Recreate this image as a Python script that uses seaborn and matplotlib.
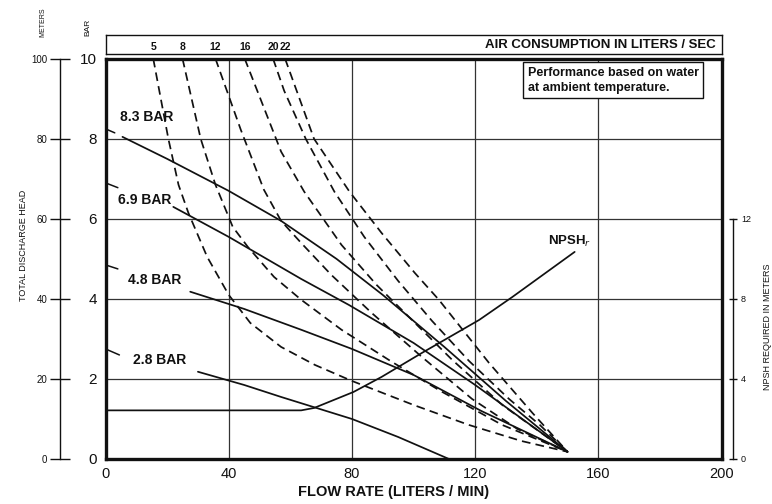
import matplotlib
matplotlib.use("Agg")
import matplotlib.pyplot as plt
import seaborn as sns

# ── data ────────────────────────────────────────────────────────────────
# solid pressure curves: flow (l/min) vs head (bar); first 2 points = leader at zero flow
p83_flow = [0, 3, 5.5, 20, 40, 57, 75, 90, 110, 130, 150]
p83_head = [8.25, 8.15, 8.05, 7.5, 6.7, 5.95, 5.0, 4.1, 2.8, 1.45, 0.18]
p69_flow = [0, 4, 22, 40, 63.5, 79, 100, 120, 150]
p69_head = [6.9, 6.78, 6.3, 5.55, 4.5, 3.85, 2.9, 1.85, 0.18]
p48_flow = [0, 4, 27.5, 45, 63.5, 80, 100, 122, 150]
p48_head = [4.85, 4.75, 4.18, 3.75, 3.23, 2.75, 2.1, 1.2, 0.18]
p28_flow = [0, 4.5, 30, 45, 57, 80, 95, 111.5]
p28_head = [2.75, 2.6, 2.18, 1.85, 1.55, 1.0, 0.55, 0.0]
pressure_labels = ["8.3 BAR", "6.9 BAR", "4.8 BAR", "2.8 BAR"]

# dashed air consumption curves (liters / sec)
air5_flow = [15.5, 20.4, 23.7, 26.9, 33, 40, 47, 57, 68, 80, 100, 118, 135, 150]
air5_head = [10, 8.0, 6.85, 6.15, 5.05, 4.1, 3.4, 2.8, 2.35, 1.95, 1.35, 0.85, 0.45, 0.18]
air8_flow = [25, 30.9, 35.7, 41.3, 46.2, 54.7, 63.5, 76.6, 92.9, 109.2, 128.8, 150]
air8_head = [10, 8.0, 6.85, 5.8, 5.3, 4.55, 3.98, 3.23, 2.43, 1.68, 0.85, 0.18]
air12_flow = [35.7, 43.9, 51.4, 57, 63.5, 73.3, 86.4, 102.7, 119, 133.7, 150]
air12_head = [10, 8.23, 6.73, 5.95, 5.4, 4.6, 3.65, 2.55, 1.5, 0.75, 0.18]
air16_flow = [45.2, 57, 64.5, 76.6, 88, 99.4, 112.5, 128.8, 150]
air16_head = [10, 7.68, 6.68, 5.35, 4.35, 3.48, 2.48, 1.35, 0.18]
air20_flow = [54.4, 58, 65, 74.3, 84, 95, 106, 118, 131, 141, 150]
air20_head = [10, 9.2, 8.0, 6.68, 5.55, 4.45, 3.45, 2.45, 1.5, 0.85, 0.18]
air22_flow = [58.3, 67.7, 79.2, 89.6, 100.4, 108.2, 124.5, 138.6, 150]
air22_head = [10, 8.0, 6.68, 5.65, 4.65, 3.98, 2.4, 1.15, 0.18]
air_labels = ["5", "8", "12", "16", "20", "22"]

# NPSH required (meters)
npsh_flow = [0, 63.5, 67.7, 80.5, 89.6, 102.7, 121.3, 132.1, 152.3]
npsh_m = [2.43, 2.43, 2.55, 3.35, 4.1, 5.3, 6.95, 8.1, 10.35]

x_ticks = [0, 40, 80, 120, 160, 200]
bar_ticks = [0, 2, 4, 6, 8, 10]
meter_ticks = [0, 20, 40, 60, 80, 100]
npsh_ticks = [0, 4, 8, 12]

# ── style ────────────────────────────────────────────────────────────────
sns.set_theme(style="white")
plt.rcParams["font.family"] = ["Liberation Sans Narrow", "Liberation Sans", "DejaVu Sans"]
WIDE = ["Liberation Sans", "DejaVu Sans"]
ink = "#111111"

fig = plt.figure(figsize=(7.72, 5.04), dpi=100)
fig.patch.set_facecolor("white")
ax = fig.add_axes([0.1367, 0.0893, 0.798, 0.794])
ax.set_xlim(0, 200)
ax.set_ylim(0, 10)

# grid + frame
ax.set_xticks(x_ticks)
ax.set_yticks(bar_ticks)
ax.grid(True, color="#333333", linewidth=0.9)
for s in ax.spines.values():
    s.set_linewidth(2.4)
    s.set_color(ink)
ax.tick_params(axis="both", length=0, colors=ink)
ax.tick_params(axis="x", labelsize=10.5, pad=6)
ax.tick_params(axis="y", labelsize=11, pad=6)
ax.set_xlabel("FLOW RATE (LITERS / MIN)", fontsize=10.5, fontweight="bold", color=ink)
ax.xaxis.set_label_coords(0.468, -0.066)
ax.set_ylabel("")

# ── pressure curves ──────────────────────────────────────────────────────
pressure = [(p83_flow, p83_head), (p69_flow, p69_head),
            (p48_flow, p48_head), (p28_flow, p28_head)]
for fl, hd in pressure:
    sns.lineplot(x=fl[:2], y=hd[:2], ax=ax, color=ink, linewidth=1.1,
                 estimator=None, sort=False)
    sns.lineplot(x=fl[2:], y=hd[2:], ax=ax, color=ink, linewidth=1.25,
                 estimator=None, sort=False)

label_pos = [(4.8, 8.55), (4.2, 6.48), (7.3, 4.48), (9.0, 2.48)]
for (lx, ly), txt in zip(label_pos, pressure_labels):
    ax.text(lx, ly, txt, fontsize=10, fontweight="bold", family=WIDE,
            ha="left", va="center", color=ink)

# ── air consumption curves ───────────────────────────────────────────────
air = [(air5_flow, air5_head), (air8_flow, air8_head), (air12_flow, air12_head),
       (air16_flow, air16_head), (air20_flow, air20_head), (air22_flow, air22_head)]
for fl, hd in air:
    sns.lineplot(x=fl, y=hd, ax=ax, color=ink, linewidth=1.25,
                 linestyle=(0, (5, 3)), estimator=None, sort=False)

# ── NPSH (right axis, meters) ────────────────────────────────────────────
ax_n = ax.twinx()
ax_n.set_ylim(0, 20)
sns.lineplot(x=npsh_flow, y=npsh_m, ax=ax_n, color=ink, linewidth=1.25,
             estimator=None, sort=False)
ax_n.set_xlim(0, 200)
for k in ["left", "top", "bottom"]:
    ax_n.spines[k].set_visible(False)
ax_n.spines["right"].set_position(("axes", 1.018))
ax_n.spines["right"].set_bounds(0, 12)
ax_n.spines["right"].set_linewidth(1.0)
ax_n.spines["right"].set_color(ink)
ax_n.set_yticks(npsh_ticks)
ax_n.tick_params(axis="y", direction="inout", length=6, width=1, labelsize=6.5,
                 pad=3, colors=ink)
ax_n.set_ylabel("NPSH REQUIRED IN METERS", fontsize=6.5, color=ink, rotation=90)
ax_n.yaxis.set_label_coords(1.068, 0.33)
ax.text(143.5, 5.43, "NPSH$_r$", fontsize=9.5, fontweight="bold", family=WIDE,
        ha="left", va="center", color=ink)

# ── meters axis (outer left) ─────────────────────────────────────────────
ax_m = ax.twinx()
ax_m.set_ylim(0, 100)
ax_m.yaxis.tick_left()
ax_m.yaxis.set_label_position("left")
for k in ["right", "top", "bottom"]:
    ax_m.spines[k].set_visible(False)
ax_m.spines["left"].set_visible(True)
ax_m.spines["left"].set_position(("axes", -0.074))
ax_m.spines["left"].set_linewidth(1.0)
ax_m.spines["left"].set_color(ink)
ax_m.set_yticks(meter_ticks)
ax_m.tick_params(axis="y", direction="inout", length=14, width=1, labelsize=7,
                 pad=2, colors=ink)
ax_m.set_ylabel("TOTAL DISCHARGE HEAD", fontsize=6.5, color=ink)
ax_m.yaxis.set_label_coords(-0.126, 0.535)

fig.text(43 / 772, 1 - 22 / 504, "METERS", rotation=90, fontsize=5, ha="center",
         va="center", color=ink)
fig.text(88 / 772, 1 - 27 / 504, "BAR", rotation=90, fontsize=6, ha="center",
         va="center", color=ink)

# ── air consumption header box ───────────────────────────────────────────
ax_air = fig.add_axes([0.1367, 0.8929, 0.798, 0.0377])
ax_air.set_xlim(0, 200)
ax_air.set_ylim(0, 1)
ax_air.set_xticks([])
ax_air.set_yticks([])
for s in ax_air.spines.values():
    s.set_linewidth(1.0)
    s.set_color(ink)
for (fl, hd), txt in zip(air, air_labels):
    ax_air.text(fl[0], 0.38, txt, fontsize=7.5, fontweight="bold", ha="center",
                va="center", color=ink)
ax_air.text(0.99, 0.45, "AIR CONSUMPTION IN LITERS / SEC", transform=ax_air.transAxes,
            fontsize=9.5, fontweight="bold", ha="right", va="center", color=ink)

# note box
ax.text(137.0, 9.8, "Performance based on water\nat ambient temperature.",
        fontsize=9, fontweight="bold", family=WIDE, ha="left", va="top",
        color=ink, linespacing=1.3, zorder=5,
        bbox=dict(boxstyle="square,pad=0.35", facecolor="white",
                  edgecolor=ink, linewidth=1.0))

fig.savefig("out.png", dpi=100, facecolor="white")
